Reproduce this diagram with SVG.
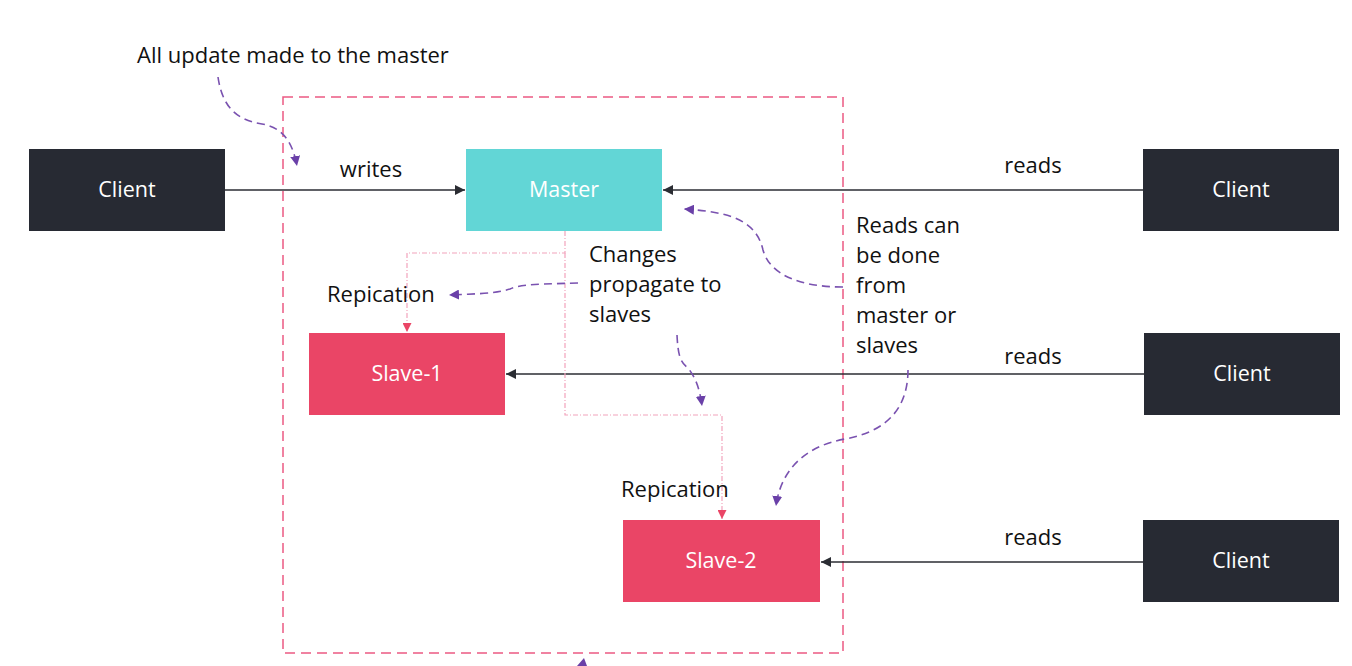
<svg xmlns="http://www.w3.org/2000/svg" width="1352" height="666" viewBox="0 0 1352 666">
<style>
.client{fill:#272A33}
.master{fill:#62D6D6}
.slave{fill:#EA4566}
.nt{font-family:"Open Sans","DejaVu Sans",sans-serif;font-size:21.5px;fill:#fff;text-anchor:middle}
.lbl{font-family:"Open Sans","DejaVu Sans",sans-serif;font-size:22px;fill:#111}
.read{stroke:#2b2d33;stroke-width:1.3;fill:none}
.repl{stroke:#F2A3BC;stroke-width:1.2;fill:none;stroke-dasharray:5 2 1 2}
.note{stroke:#7A52B0;stroke-width:1.6;fill:none;stroke-dasharray:8 5}
</style>
<defs>
<marker id="ab" viewBox="0 0 10 10" refX="10" refY="5" markerWidth="10" markerHeight="10" markerUnits="userSpaceOnUse" orient="auto"><path d="M0,0 L10,5 L0,10 z" fill="#2b2d33"/></marker>
<marker id="ap" viewBox="0 0 10 10" refX="10" refY="5" markerWidth="9" markerHeight="9" markerUnits="userSpaceOnUse" orient="auto"><path d="M0,0 L10,5 L0,10 z" fill="#EA4566"/></marker>
<marker id="av" viewBox="0 0 10 10" refX="10" refY="5" markerWidth="10" markerHeight="10" markerUnits="userSpaceOnUse" orient="auto"><path d="M0,0 L10,5 L0,10 z" fill="#6A40A8"/></marker>
</defs>
<rect width="1352" height="666" fill="#fff"/>
<rect id="container" x="283" y="97" width="560" height="556" fill="none" stroke="#EB5A82" stroke-width="1.5" stroke-dasharray="10 6"/>
<g id="connectors">
<path class="read" d="M225,190 H465" marker-end="url(#ab)"/>
<path class="read" d="M1143,190 H663" marker-end="url(#ab)"/>
<path class="read" d="M1144,374 H506" marker-end="url(#ab)"/>
<path class="read" d="M1143,562 H821" marker-end="url(#ab)"/>
<path class="repl" d="M565,231 V253 H407 V332" marker-end="url(#ap)"/>
<path class="repl" d="M565,253 V415 H722 V519" marker-end="url(#ap)"/>
</g>
<g id="annotations">
<path class="note" d="M218,77 C222,105 235,120 262,124 C285,128 293,145 297,166" marker-end="url(#av)"/>
<path class="note" d="M578,283 C545,284 520,284 510,289 C495,294 470,294 449,295" marker-end="url(#av)"/>
<path class="note" d="M677,335 C678,355 680,362 688,368 C696,378 700,390 702,406" marker-end="url(#av)"/>
<path class="note" d="M843,287 C800,287 770,275 763,250 C756,220 730,212 684,209" marker-end="url(#av)"/>
<path class="note" d="M908,370 C908,400 895,430 845,439 C800,447 780,475 776,506" marker-end="url(#av)"/>
<path d="M577,666 L584,658 L587,666 z" fill="#6A40A8"/>
</g>
<g id="client-1"><rect class="client" x="29" y="149" width="196" height="82"/><text class="nt" x="127" y="197">Client</text></g>
<g id="master"><rect class="master" x="466" y="149" width="196" height="82"/><text class="nt" x="564" y="197">Master</text></g>
<g id="client-2"><rect class="client" x="1143" y="149" width="196" height="82"/><text class="nt" x="1241" y="197">Client</text></g>
<g id="slave-1"><rect class="slave" x="309" y="333" width="196" height="82"/><text class="nt" x="407" y="381">Slave-1</text></g>
<g id="client-3"><rect class="client" x="1144" y="333" width="196" height="82"/><text class="nt" x="1242" y="381">Client</text></g>
<g id="slave-2"><rect class="slave" x="623" y="520" width="197" height="82"/><text class="nt" x="721" y="568">Slave-2</text></g>
<g id="client-4"><rect class="client" x="1143" y="520" width="196" height="82"/><text class="nt" x="1241" y="568">Client</text></g>
<g id="labels">
<text class="lbl" x="137" y="63">All update made to the master</text>
<text class="lbl" x="371" y="177" text-anchor="middle">writes</text>
<text class="lbl" x="1033" y="173" text-anchor="middle">reads</text>
<text class="lbl" x="1033" y="364" text-anchor="middle">reads</text>
<text class="lbl" x="1033" y="545" text-anchor="middle">reads</text>
<text class="lbl" x="327" y="302">Repication</text>
<text class="lbl" x="621" y="497">Repication</text>
<text class="lbl" x="589" y="262">Changes</text>
<text class="lbl" x="589" y="292">propagate to</text>
<text class="lbl" x="589" y="322">slaves</text>
<text class="lbl" x="856" y="233">Reads can</text>
<text class="lbl" x="856" y="263">be done</text>
<text class="lbl" x="856" y="293">from</text>
<text class="lbl" x="856" y="323">master or</text>
<text class="lbl" x="856" y="353">slaves</text>
</g>
</svg>
